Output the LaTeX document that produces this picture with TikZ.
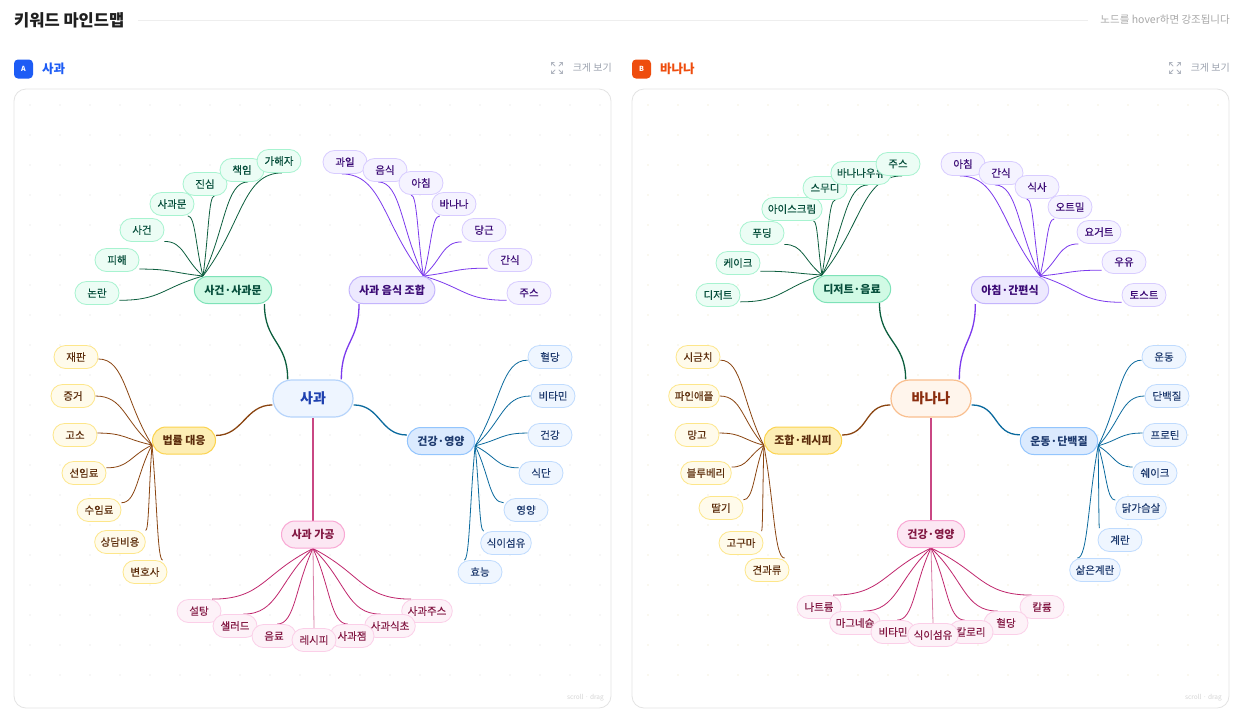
\documentclass[tikz,border=0pt]{standalone}
\usepackage{fontspec}
\setmainfont{Noto Sans CJK KR}
\newfontfamily\leaffont[FakeBold=0.35]{Noto Sans CJK KR}
\usetikzlibrary{calc,backgrounds}

\definecolor{ink}{HTML}{1F1F1F}
\definecolor{hintc}{HTML}{A8A8A8}
\definecolor{rulec}{HTML}{EEEEEE}
\definecolor{panelc}{HTML}{E3E3E3}
\definecolor{dotA}{HTML}{EFEFEF}
\definecolor{dotB}{HTML}{F5F1DF}
\definecolor{zoomc}{HTML}{9CA3AF}
\definecolor{appleblue}{HTML}{1D5CF5}
\definecolor{bananaor}{HTML}{EE4D0E}
\definecolor{gnfill}{HTML}{D1FAE5}\definecolor{gnline}{HTML}{7EE2B8}\definecolor{gntext}{HTML}{064E3B}
\definecolor{gnleaff}{HTML}{ECFDF5}\definecolor{gnleafl}{HTML}{A7F3D0}\definecolor{gnedge}{HTML}{0C5E3E}
\definecolor{pufill}{HTML}{EDE9FE}\definecolor{puline}{HTML}{C4B5FD}\definecolor{putext}{HTML}{3B0A75}
\definecolor{puleaff}{HTML}{F5F3FF}\definecolor{puleafl}{HTML}{D8CCFF}\definecolor{puedge}{HTML}{7C3AED}
\definecolor{ylfill}{HTML}{FDEEB5}\definecolor{ylline}{HTML}{FCD34D}\definecolor{yltext}{HTML}{5C2D0C}
\definecolor{ylleaff}{HTML}{FFFBEB}\definecolor{ylleafl}{HTML}{FDE68A}\definecolor{yledge}{HTML}{8A4511}
\definecolor{pkfill}{HTML}{FCE7F3}\definecolor{pkline}{HTML}{F9A8D4}\definecolor{pktext}{HTML}{831843}
\definecolor{pkleaff}{HTML}{FDF2F8}\definecolor{pkleafl}{HTML}{FBCFE8}\definecolor{pkedge}{HTML}{C0266D}
\definecolor{blfill}{HTML}{DBEAFE}\definecolor{blline}{HTML}{93C5FD}\definecolor{bltext}{HTML}{1E3A6E}
\definecolor{blleaff}{HTML}{EFF6FF}\definecolor{blleafl}{HTML}{BFDBFE}\definecolor{bledge}{HTML}{0B6A9E}
\definecolor{apfill}{HTML}{EEF5FF}\definecolor{apline}{HTML}{B6D4FB}\definecolor{aptext}{HTML}{1E40AF}
\definecolor{bnfill}{HTML}{FFF5EC}\definecolor{bnline}{HTML}{F9BF8F}\definecolor{bntext}{HTML}{8A2D0F}

\tikzset{
	leaf/.style={draw, line width=0.8pt, rounded corners=11.5pt, minimum width=44pt, minimum height=23pt,
		inner xsep=6pt, inner ysep=0pt, font=\leaffont\fontsize{10.5}{12}\selectfont},
	branch/.style={draw, line width=1pt, rounded corners=13.5pt, minimum height=27pt,
		inner xsep=10pt, inner ysep=0pt, font=\fontsize{11}{13}\selectfont\bfseries},
	core/.style={draw, line width=1.2pt, rounded corners=18.5pt, minimum width=80pt, minimum height=37pt,
		inner sep=0pt, font=\fontsize{14}{16}\selectfont\bfseries},
	gnleaf/.style={leaf, fill=gnleaff, draw=gnleafl, text=gntext},
	puleaf/.style={leaf, fill=puleaff, draw=puleafl, text=putext},
	ylleaf/.style={leaf, fill=ylleaff, draw=ylleafl, text=yltext},
	pkleaf/.style={leaf, fill=pkleaff, draw=pkleafl, text=pktext},
	blleaf/.style={leaf, fill=blleaff, draw=blleafl, text=bltext},
	gnbranch/.style={branch, fill=gnfill, draw=gnline, text=gntext},
	pubranch/.style={branch, fill=pufill, draw=puline, text=putext},
	ylbranch/.style={branch, fill=ylfill, draw=ylline, text=yltext},
	pkbranch/.style={branch, fill=pkfill, draw=pkline, text=pktext},
	blbranch/.style={branch, fill=blfill, draw=blline, text=bltext},
	twig/.style={line width=0.8pt, to path={.. controls ($(\tikztostart)!0.5!(\tikztotarget)$)
		and ($(\tikztotarget)!0.5!(\tikztostart|-\tikztotarget)$) .. (\tikztotarget)}},
	gntwig/.style={twig, draw=gnedge}, putwig/.style={twig, draw=puedge}, yltwig/.style={twig, draw=yledge},
	pktwig/.style={twig, draw=pkedge}, bltwig/.style={twig, draw=bledge},
	stem/.style={line width=1.3pt},
	panel/.style={draw=panelc, fill=white, line width=0.8pt, rounded corners=12pt},
	badge/.style={rounded corners=4pt, minimum size=19pt, inner sep=0pt, text=white, font=\fontsize{7}{8}\selectfont\bfseries},
	paneltitle/.style={anchor=west, inner sep=0pt, font=\fontsize{12.5}{14}\selectfont\bfseries},
	zoomtxt/.style={anchor=east, inner sep=0pt, text=zoomc, font=\fontsize{10}{11}\selectfont},
	iconline/.style={draw=zoomc!80, line width=0.9pt, line cap=round},
	scrolltxt/.style={anchor=east, inner sep=0pt, text=black!17, font=\fontsize{6.5}{7}\selectfont}
}

\begin{document}
\begin{tikzpicture}[x=1pt,y=-1pt]
	\useasboundingbox (0,0) rectangle (1248,716);
	
	\node[anchor=west, inner sep=0pt, text=ink, font=\fontsize{16.5}{19}\selectfont\bfseries] (title) at (14,20) {키워드 마인드맵};
	\node[anchor=east, inner sep=0pt, text=hintc, font=\fontsize{10.5}{12}\selectfont] (hint) at (1230,20) {노드를 hover하면 강조됩니다};
	\draw[rulec, line width=0.8pt] ([xshift=14pt]title.east) -- ([xshift=-12pt]hint.west);
	
	\node[badge, fill=appleblue] (tagA) at (23.5,69) {A};
	\node[paneltitle, text=appleblue] (headA) at (42,69) {사과};
	\node[zoomtxt] (bigA) at (612,68) {크게 보기};
	\node[badge, fill=bananaor] (tagB) at (641.5,69) {B};
	\node[paneltitle, text=bananaor] (headB) at (660,69) {바나나};
	\node[zoomtxt] (bigB) at (1230,68) {크게 보기};
	\foreach \cx in {557,1175}
		\foreach \sx/\sy in {1/1,1/-1,-1/1,-1/-1}
			\draw[iconline] (\cx+\sx*2,68+\sy*2) -- (\cx+\sx*5.5,68+\sy*5.5)
				(\cx+\sx*5.5,68+\sy*2.8) -- (\cx+\sx*5.5,68+\sy*5.5) -- (\cx+\sx*2.8,68+\sy*5.5);
	
	\begin{scope}[on background layer]
		\fill[white] (0,0) rectangle (1248,716);
		\draw[panel] (14,89) rectangle (611,708);
		\draw[panel] (632,89) rectangle (1229,708);
		\foreach \x in {30,60,...,600}
			\foreach \y in {105,135,...,695}
				\fill[dotA] (\x,\y) circle (0.9);
		\foreach \x in {648,678,...,1218}
			\foreach \y in {105,135,...,695}
				\fill[dotB] (\x,\y) circle (0.9);
	\end{scope}
	\node[scrolltxt] (scrA) at (604,698) {scroll · drag};
	\node[scrolltxt] (scrB) at (1222,698) {scroll · drag};
	
	% 사과
	\node[core, fill=apfill, draw=apline, text=aptext] (sa) at (313,398.5) {사과};
	\node[gnbranch] (sa1) at (233,290) {사건·사과문};
	\node[pubranch] (sa2) at (392,290) {사과 음식 조합};
	\node[ylbranch] (sa3) at (184,440.5) {법률 대응};
	\node[pkbranch] (sa4) at (313,534.5) {사과 가공};
	\node[blbranch] (sa5) at (441,441) {건강·영양};
	
	\node[gnleaf] (sa1a) at (97,293) {논란};
	\node[gnleaf] (sa1b) at (117,260) {피해};
	\node[gnleaf] (sa1c) at (142,230) {사건};
	\node[gnleaf] (sa1d) at (172,204) {사과문};
	\node[gnleaf] (sa1e) at (205,184) {진심};
	\node[gnleaf] (sa1f) at (242,170) {책임};
	\node[gnleaf] (sa1g) at (279,161) {가해자};
	
	\node[puleaf] (sa2a) at (345,162) {과일};
	\node[puleaf] (sa2b) at (385,170) {음식};
	\node[puleaf] (sa2c) at (421,183) {아침};
	\node[puleaf] (sa2d) at (454,204) {바나나};
	\node[puleaf] (sa2e) at (484,230) {당근};
	\node[puleaf] (sa2f) at (510,260) {간식};
	\node[puleaf] (sa2g) at (529,293) {주스};
	
	\node[ylleaf] (sa3a) at (76,357) {재판};
	\node[ylleaf] (sa3b) at (73,396) {증거};
	\node[ylleaf] (sa3c) at (75,435) {고소};
	\node[ylleaf] (sa3d) at (84,473) {선임료};
	\node[ylleaf] (sa3e) at (99,510) {수임료};
	\node[ylleaf] (sa3f) at (120,542) {상담비용};
	\node[ylleaf] (sa3g) at (145,572) {변호사};
	
	\node[pkleaf] (sa4a) at (199,611) {설탕};
	\node[pkleaf] (sa4b) at (235,626) {샐러드};
	\node[pkleaf] (sa4c) at (274,636) {음료};
	\node[pkleaf] (sa4g) at (427,611) {사과주스};
	\node[pkleaf] (sa4f) at (390,626) {사과식초};
	\node[pkleaf] (sa4e) at (352,636) {사과잼};
	\node[pkleaf] (sa4d) at (314,640) {레시피};
	
	\node[blleaf] (sa5a) at (550,357) {혈당};
	\node[blleaf] (sa5b) at (553,396) {비타민};
	\node[blleaf] (sa5c) at (550,435) {건강};
	\node[blleaf] (sa5d) at (541,473) {식단};
	\node[blleaf] (sa5e) at (526,510) {영양};
	\node[blleaf] (sa5f) at (506,543) {식이섬유};
	\node[blleaf] (sa5g) at (480,572) {효능};
	
	% 바나나
	\node[core, fill=bnfill, draw=bnline, text=bntext] (ba) at (931,398.5) {바나나};
	\node[gnbranch] (ba1) at (852,289) {디저트·음료};
	\node[pubranch] (ba2) at (1010,290) {아침·간편식};
	\node[ylbranch] (ba3) at (803,440.5) {조합·레시피};
	\node[pkbranch] (ba4) at (931,534) {건강·영양};
	\node[blbranch] (ba5) at (1059,441) {운동·단백질};
	
	\node[gnleaf] (ba1a) at (718,295) {디저트};
	\node[gnleaf] (ba1b) at (738,263) {케이크};
	\node[gnleaf] (ba1c) at (762,233) {푸딩};
	\node[gnleaf] (ba1d) at (792,209) {아이스크림};
	\node[gnleaf] (ba1e) at (825,188) {스무디};
	\node[gnleaf] (ba1f) at (861,173) {바나나우유};
	\node[gnleaf] (ba1g) at (898,164) {주스};
	
	\node[puleaf] (ba2a) at (963,164) {아침};
	\node[puleaf] (ba2b) at (1001,173) {간식};
	\node[puleaf] (ba2c) at (1037,187) {식사};
	\node[puleaf] (ba2d) at (1070,207) {오트밀};
	\node[puleaf] (ba2e) at (1099,232) {요거트};
	\node[puleaf] (ba2f) at (1124,262) {우유};
	\node[puleaf] (ba2g) at (1144,295) {토스트};
	
	\node[ylleaf] (ba3a) at (698,357) {시금치};
	\node[ylleaf] (ba3b) at (694,396) {파인애플};
	\node[ylleaf] (ba3c) at (697,435) {망고};
	\node[ylleaf] (ba3d) at (706,473) {블루베리};
	\node[ylleaf] (ba3e) at (721,508) {딸기};
	\node[ylleaf] (ba3f) at (741,543) {고구마};
	\node[ylleaf] (ba3g) at (767,570) {견과류};
	
	\node[pkleaf] (ba4a) at (819,607) {나트륨};
	\node[pkleaf] (ba4b) at (855,623) {마그네슘};
	\node[pkleaf] (ba4c) at (893,632) {비타민};
	\node[pkleaf] (ba4g) at (1042,607) {칼륨};
	\node[pkleaf] (ba4f) at (1006,623) {혈당};
	\node[pkleaf] (ba4e) at (971,632) {칼로리};
	\node[pkleaf] (ba4d) at (933,635) {식이섬유};
	
	\node[blleaf] (ba5a) at (1164,357) {운동};
	\node[blleaf] (ba5b) at (1167,396) {단백질};
	\node[blleaf] (ba5c) at (1165,435) {프로틴};
	\node[blleaf] (ba5d) at (1155,473) {쉐이크};
	\node[blleaf] (ba5e) at (1141,508) {닭가슴살};
	\node[blleaf] (ba5f) at (1120,540) {계란};
	\node[blleaf] (ba5g) at (1095,570) {삶은계란};
	
	\begin{scope}[on background layer]
		\draw[stem, gnedge] (sa.143) .. controls +(0,-38) and +(0,38) .. (sa1.-24);
		\draw[stem, puedge] (sa.34) .. controls +(0,-38) and +(0,38) .. (sa2.-157);
		\draw[stem, yledge] (sa.189) .. controls +(-27,0) and +(27,0) .. (sa3.9);
		\draw[stem, pkedge!85] (sa.south) -- (sa4.north);
		\draw[stem, bledge] (sa.-9) .. controls +(27,0) and +(-27,0) .. (sa5.170);
		
		\draw[gntwig] (sa1.155) to (sa1a.-18);
		\draw[gntwig] (sa1.155) to (sa1b.-22);
		\draw[gntwig] (sa1.155) to (sa1c.-27);
		\draw[gntwig] (sa1.155) to (sa1d.-37);
		\draw[gntwig] (sa1.155) to (sa1e.-52);
		\draw[gntwig] (sa1.155) to (sa1f.-63);
		\draw[gntwig] (sa1.155) to (sa1g.-76);
		
		\draw[putwig] (sa2.24) to (sa2a.-105);
		\draw[putwig] (sa2.24) to (sa2b.-120);
		\draw[putwig] (sa2.24) to (sa2c.-130);
		\draw[putwig] (sa2.24) to (sa2d.-140);
		\draw[putwig] (sa2.24) to (sa2e.-152);
		\draw[putwig] (sa2.24) to (sa2f.-160);
		\draw[putwig] (sa2.24) to (sa2g.-162);
		
		\draw[yltwig] (sa3.188) to (sa3a.-5);
		\draw[yltwig] (sa3.188) to (sa3b.0);
		\draw[yltwig] (sa3.188) to (sa3c.5);
		\draw[yltwig] (sa3.188) to (sa3d.13);
		\draw[yltwig] (sa3.188) to (sa3e.18);
		\draw[yltwig] (sa3.188) to (sa3f.24);
		\draw[yltwig] (sa3.188) to (sa3g.34);
		
		\draw[pktwig] (sa4.south) to (sa4a.42);
		\draw[pktwig] (sa4.south) to (sa4b.55);
		\draw[pktwig] (sa4.south) to (sa4c.75);
		\draw[pktwig, pkedge!60] (sa4.south) -- (sa4d.north);
		\draw[pktwig] (sa4.south) to (sa4e.109);
		\draw[pktwig] (sa4.south) to (sa4f.128);
		\draw[pktwig] (sa4.south) to (sa4g.143);
		
		\draw[bltwig] (sa5.-8) to (sa5a.-172);
		\draw[bltwig] (sa5.-8) to (sa5b.180);
		\draw[bltwig] (sa5.-8) to (sa5c.175);
		\draw[bltwig] (sa5.-8) to (sa5d.167);
		\draw[bltwig] (sa5.-8) to (sa5e.162);
		\draw[bltwig] (sa5.-8) to (sa5f.152);
		\draw[bltwig] (sa5.-8) to (sa5g.143);
		
		\draw[stem, gnedge] (ba.143) .. controls +(0,-38) and +(0,38) .. (ba1.-27);
		\draw[stem, puedge] (ba.34) .. controls +(0,-38) and +(0,38) .. (ba2.-158);
		\draw[stem, yledge] (ba.189) .. controls +(-27,0) and +(27,0) .. (ba3.8);
		\draw[stem, pkedge!85] (ba.south) -- (ba4.north);
		\draw[stem, bledge] (ba.-9) .. controls +(27,0) and +(-27,0) .. (ba5.171);
		
		\draw[gntwig] (ba1.155) to (ba1a.-17);
		\draw[gntwig] (ba1.155) to (ba1b.-20);
		\draw[gntwig] (ba1.155) to (ba1c.-27);
		\draw[gntwig] (ba1.155) to (ba1d.-29);
		\draw[gntwig] (ba1.155) to (ba1e.-49);
		\draw[gntwig] (ba1.155) to (ba1f.-59);
		\draw[gntwig] (ba1.155) to (ba1g.-71);
		
		\draw[putwig] (ba2.25) to (ba2a.-105);
		\draw[putwig] (ba2.25) to (ba2b.-117);
		\draw[putwig] (ba2.25) to (ba2c.-131);
		\draw[putwig] (ba2.25) to (ba2d.-143);
		\draw[putwig] (ba2.25) to (ba2e.-150);
		\draw[putwig] (ba2.25) to (ba2f.-160);
		\draw[putwig] (ba2.25) to (ba2g.-162);
		
		\draw[yltwig] (ba3.187) to (ba3a.-8);
		\draw[yltwig] (ba3.187) to (ba3b.0);
		\draw[yltwig] (ba3.187) to (ba3c.5);
		\draw[yltwig] (ba3.187) to (ba3d.13);
		\draw[yltwig] (ba3.187) to (ba3e.20);
		\draw[yltwig] (ba3.187) to (ba3f.30);
		\draw[yltwig] (ba3.187) to (ba3g.34);
		
		\draw[pktwig] (ba4.south) to (ba4a.40);
		\draw[pktwig] (ba4.south) to (ba4b.55);
		\draw[pktwig] (ba4.south) to (ba4c.71);
		\draw[pktwig, pkedge!60] (ba4.south) -- (ba4d.north);
		\draw[pktwig] (ba4.south) to (ba4e.118);
		\draw[pktwig] (ba4.south) to (ba4f.125);
		\draw[pktwig] (ba4.south) to (ba4g.131);
		
		\draw[bltwig] (ba5.-7) to (ba5a.-172);
		\draw[bltwig] (ba5.-7) to (ba5b.180);
		\draw[bltwig] (ba5.-7) to (ba5c.175);
		\draw[bltwig] (ba5.-7) to (ba5d.165);
		\draw[bltwig] (ba5.-7) to (ba5e.163);
		\draw[bltwig] (ba5.-7) to (ba5f.150);
		\draw[bltwig] (ba5.-7) to (ba5g.146);
	\end{scope}
	
\end{tikzpicture}
\end{document}
